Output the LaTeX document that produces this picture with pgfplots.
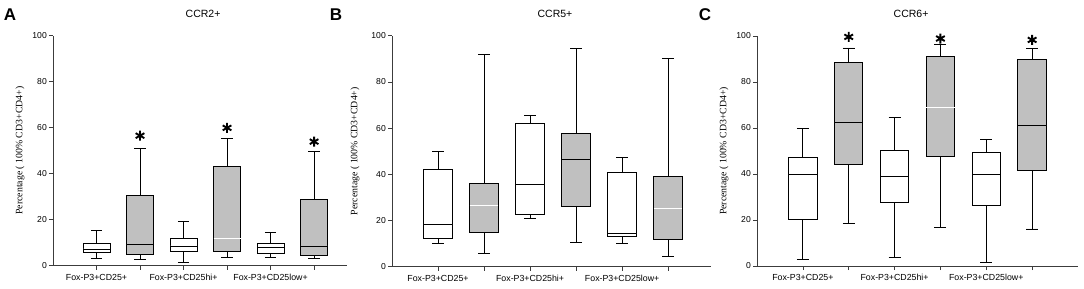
\documentclass[border=0pt]{standalone}
\usepackage{fontspec}
\setmainfont{Liberation Sans}
\newfontfamily\seriffont{Liberation Serif}
\usepackage{pgfplots}
\pgfplotsset{compat=1.18}
\usepgfplotslibrary{statistics}
\definecolor{boxgray}{RGB}{192,192,192}
\definecolor{axisgray}{RGB}{60,60,60}
\pgfplotsset{
  panel/.style={
    scale only axis, anchor=south west, clip=false,
    xmin=0, ymin=0, ymax=100,
    axis lines*=left,
    axis line style={axisgray, line width=0.8pt, -},
    xtick={1,2,3,4,5,6},
    xticklabels={Fox-P3+CD25+,,Fox-P3+CD25hi+,,Fox-P3+CD25low+,},
    ytick={0,20,40,60,80,100},
    tick align=outside,
    tick style={axisgray, line width=0.7pt},
    major tick length=4pt,
    yticklabel style={font=\fontsize{8.6}{9}\selectfont, inner sep=2pt},
    xticklabel style={font=\fontsize{8.8}{9}\selectfont, yshift=-1pt},
    /pgf/number format/assume math mode=true,
    boxplot/draw direction=y,
    boxplot/box extend=0.62,
    boxplot/whisker extend=0.26,
    ylabel={\seriffont Percentage ( 100\% CD3+CD4+)},
    title style={font=\fontsize{10.5}{12}\selectfont, anchor=center},
  },
  wbox/.style={draw=black, fill=white, line width=0.9pt, solid, mark=none},
  gbox/.style={draw=black, fill=boxgray, line width=0.9pt, solid, mark=none},
  lmed/.style={boxplot/every median/.style={draw=white, line width=1pt}},
  asterisks/.style={only marks, mark=asterisk, mark size=5pt, black, mark options={line width=1.9pt}},
}
\begin{document}
\begin{tikzpicture}
\useasboundingbox (0,0) rectangle (1084pt,-289pt);
% ---------- Panel A ----------
\begin{axis}[panel, at={(53pt,-265.5pt)}, width=293.7pt, height=229.8pt, xmax=6.75,
  ylabel style={at={(axis description cs:-0.112,0.5)}, anchor=center, font=\fontsize{9.8}{11}\selectfont},
  title={CCR2+}, title style={at={(axis description cs:0.511,1)}, yshift=15.7pt}]
\addplot+[boxplot prepared={draw position=1, lower whisker=3.1, lower quartile=5.8, median=7.2, upper quartile=9.4, upper whisker=15.2}, wbox] coordinates {};
\addplot+[boxplot prepared={draw position=2, lower whisker=2.8, lower quartile=4.7, median=9.3, upper quartile=30.3, upper whisker=51.0}, gbox] coordinates {};
\addplot+[boxplot prepared={draw position=3, lower whisker=1.2, lower quartile=6.3, median=8.5, upper quartile=11.9, upper whisker=19.1}, wbox] coordinates {};
\addplot+[boxplot prepared={draw position=4, lower whisker=3.3, lower quartile=5.9, median=11.6, upper quartile=43.0, upper whisker=55.4}, gbox, lmed] coordinates {};
\addplot+[boxplot prepared={draw position=5, lower whisker=3.6, lower quartile=5.2, median=8.0, upper quartile=9.7, upper whisker=14.5}, wbox] coordinates {};
\addplot+[boxplot prepared={draw position=6, lower whisker=3.1, lower quartile=4.5, median=8.5, upper quartile=28.7, upper whisker=49.8}, gbox] coordinates {};
\addplot[asterisks] coordinates {(2,56.5) (4,59.9) (6,53.9)};
\end{axis}
% ---------- Panel B ----------
\begin{axis}[panel, at={(392pt,-266.7pt)}, width=319pt, height=231pt, xmax=6.93,
  ylabel style={at={(axis description cs:-0.116,0.5)}, anchor=center, font=\fontsize{9.8}{11}\selectfont},
  title={CCR5+}, title style={at={(axis description cs:0.511,1)}, yshift=15.7pt}]
\addplot+[boxplot prepared={draw position=1, lower whisker=10.1, lower quartile=12.3, median=18.2, upper quartile=41.9, upper whisker=49.7}, wbox] coordinates {};
\addplot+[boxplot prepared={draw position=2, lower whisker=5.6, lower quartile=14.7, median=26.4, upper quartile=36.1, upper whisker=91.8}, gbox, lmed] coordinates {};
\addplot+[boxplot prepared={draw position=3, lower whisker=21.1, lower quartile=22.5, median=35.5, upper quartile=61.8, upper whisker=65.5}, wbox] coordinates {};
\addplot+[boxplot prepared={draw position=4, lower whisker=10.3, lower quartile=26.1, median=46.5, upper quartile=57.6, upper whisker=94.4}, gbox] coordinates {};
\addplot+[boxplot prepared={draw position=5, lower whisker=10.1, lower quartile=13.0, median=14.2, upper quartile=40.7, upper whisker=47.4}, wbox] coordinates {};
\addplot+[boxplot prepared={draw position=6, lower whisker=4.3, lower quartile=12.0, median=25.0, upper quartile=39.0, upper whisker=90.0}, gbox, lmed] coordinates {};
\end{axis}
% ---------- Panel C ----------
\begin{axis}[panel, at={(757pt,-266pt)}, width=321pt, height=230pt, xmax=7,
  ylabel style={at={(axis description cs:-0.103,0.5)}, anchor=center, font=\fontsize{9.8}{11}\selectfont},
  title={CCR6+}, title style={at={(axis description cs:0.48,1)}, yshift=16pt}]
\addplot+[boxplot prepared={draw position=1, lower whisker=2.9, lower quartile=20.1, median=39.7, upper quartile=47.1, upper whisker=59.9}, wbox] coordinates {};
\addplot+[boxplot prepared={draw position=2, lower whisker=18.4, lower quartile=44.3, median=62.5, upper quartile=88.7, upper whisker=94.8}, gbox] coordinates {};
\addplot+[boxplot prepared={draw position=3, lower whisker=3.6, lower quartile=27.8, median=38.8, upper quartile=50.4, upper whisker=64.5}, wbox] coordinates {};
\addplot+[boxplot prepared={draw position=4, lower whisker=16.8, lower quartile=47.8, median=68.8, upper quartile=91.0, upper whisker=96.2}, gbox, lmed] coordinates {};
\addplot+[boxplot prepared={draw position=5, lower whisker=1.7, lower quartile=26.4, median=40.0, upper quartile=49.3, upper whisker=55.1}, wbox] coordinates {};
\addplot+[boxplot prepared={draw position=6, lower whisker=16.1, lower quartile=41.4, median=61.0, upper quartile=89.9, upper whisker=94.5}, gbox] coordinates {};
\addplot[asterisks] coordinates {(2,99.6) (4,98.9) (6,98.3)};
\end{axis}
% panel letters
\node[font=\fontsize{17}{19}\selectfont\bfseries] at (10pt,-15pt) {A};
\node[font=\fontsize{17}{19}\selectfont\bfseries] at (336pt,-15pt) {B};
\node[font=\fontsize{17}{19}\selectfont\bfseries] at (705pt,-15pt) {C};
\end{tikzpicture}
\end{document}
